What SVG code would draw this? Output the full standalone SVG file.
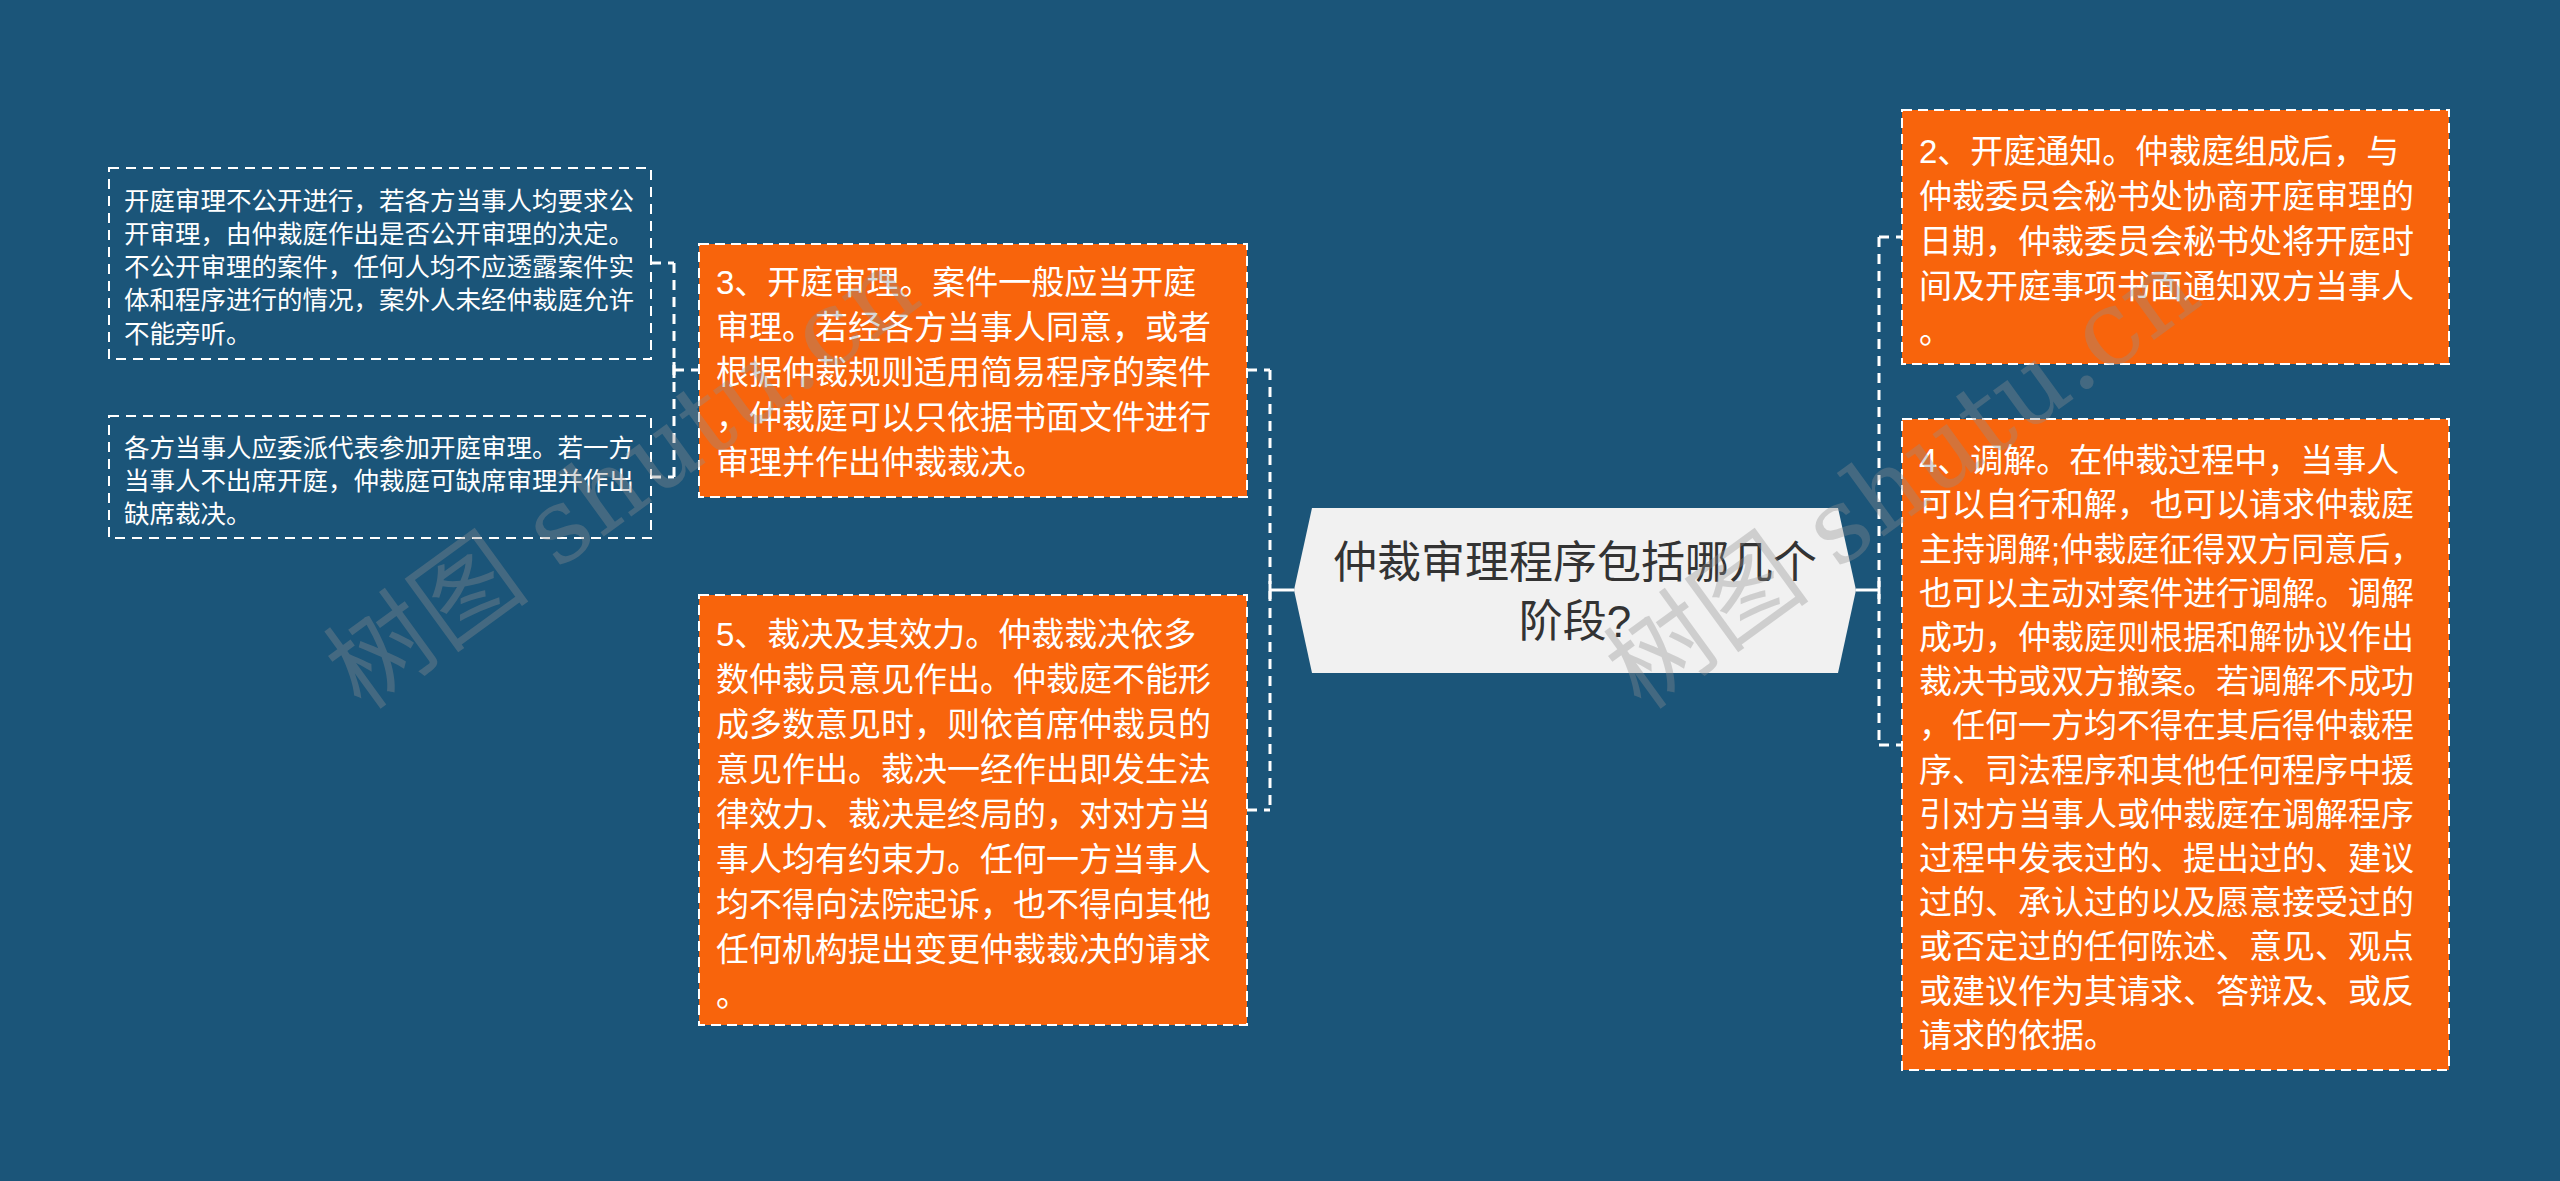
<svg xmlns="http://www.w3.org/2000/svg" width="2560" height="1181" viewBox="0 0 2560 1181">
<style>
.bg{fill:#1b5579}
.orange{fill:#f8640c;stroke:#ffffff;stroke-width:2;stroke-dasharray:10 6}
.plain{fill:none;stroke:#ffffff;stroke-width:2;stroke-dasharray:10 7}
.hex{fill:#f1f1f1}
.t{font-family:"Liberation Sans","Noto Sans CJK SC",sans-serif;fill:#ffffff}
.big{font-size:33px}
.small{font-size:25.5px}
.title{font-family:"Liberation Sans","Noto Sans CJK SC",sans-serif;font-size:44px;fill:#333333;text-anchor:middle}
.dash{fill:none;stroke:#ffffff;stroke-width:3;stroke-dasharray:10 7}
.solid{fill:none;stroke:#ffffff;stroke-width:3}
.wm{font-family:"DejaVu Serif","Noto Sans CJK SC",serif;font-size:104px;fill:#909090;opacity:0.35}
</style>
<rect class="bg" x="0" y="0" width="2560" height="1181"/>

<g id="connectors">
  <!-- left cluster: node 3 to detail boxes -->
  <path class="dash" d="M674 263 V477"/>
  <path class="dash" d="M651 263 H674"/>
  <path class="dash" d="M651 477 H674"/>
  <path class="dash" d="M674 370 H699"/>
  <path class="solid" d="M674 362 V378"/>
  <!-- center left spine -->
  <path class="dash" d="M1270 370 V810"/>
  <path class="dash" d="M1247 370 H1270"/>
  <path class="dash" d="M1247 810 H1270"/>
  <path class="solid" d="M1270 590 H1294"/>
  <path class="solid" d="M1270 581 V599"/>
  <!-- center right spine -->
  <path class="dash" d="M1879 237 V745"/>
  <path class="dash" d="M1879 237 H1902"/>
  <path class="dash" d="M1879 745 H1902"/>
  <path class="solid" d="M1856 590 H1879"/>
  <path class="solid" d="M1879 581 V599"/>
</g>

<g id="center">
  <polygon class="hex" points="1294,590 1312,508 1838,508 1856,590 1838,673 1312,673"/>
  <text class="title" x="1575" y="578">仲裁审理程序包括哪几个</text>
  <text class="title" x="1575" y="637">阶段?</text>
</g>

<g id="node-detail-1">
  <rect class="plain" x="109" y="168" width="542" height="191"/>
  <text class="t small" x="124" y="210">开庭审理不公开进行，若各方当事人均要求公</text>
  <text class="t small" x="124" y="243">开审理，由仲裁庭作出是否公开审理的决定。</text>
  <text class="t small" x="124" y="276">不公开审理的案件，任何人均不应透露案件实</text>
  <text class="t small" x="124" y="309">体和程序进行的情况，案外人未经仲裁庭允许</text>
  <text class="t small" x="124" y="343">不能旁听。</text>
</g>

<g id="node-detail-2">
  <rect class="plain" x="109" y="416" width="542" height="122"/>
  <text class="t small" x="124" y="457">各方当事人应委派代表参加开庭审理。若一方</text>
  <text class="t small" x="124" y="490">当事人不出席开庭，仲裁庭可缺席审理并作出</text>
  <text class="t small" x="124" y="523">缺席裁决。</text>
</g>

<g id="node-3">
  <rect class="orange" x="699" y="244" width="548" height="253"/>
  <text class="t big" x="716" y="294">3、开庭审理。案件一般应当开庭</text>
  <text class="t big" x="716" y="339">审理。若经各方当事人同意，或者</text>
  <text class="t big" x="716" y="384">根据仲裁规则适用简易程序的案件</text>
  <text class="t big" x="716" y="429">，仲裁庭可以只依据书面文件进行</text>
  <text class="t big" x="716" y="474">审理并作出仲裁裁决。</text>
</g>

<g id="node-5">
  <rect class="orange" x="699" y="595" width="548" height="430"/>
  <text class="t big" x="716" y="646">5、裁决及其效力。仲裁裁决依多</text>
  <text class="t big" x="716" y="691">数仲裁员意见作出。仲裁庭不能形</text>
  <text class="t big" x="716" y="736">成多数意见时，则依首席仲裁员的</text>
  <text class="t big" x="716" y="781">意见作出。裁决一经作出即发生法</text>
  <text class="t big" x="716" y="826">律效力、裁决是终局的，对对方当</text>
  <text class="t big" x="716" y="871">事人均有约束力。任何一方当事人</text>
  <text class="t big" x="716" y="916">均不得向法院起诉，也不得向其他</text>
  <text class="t big" x="716" y="961">任何机构提出变更仲裁裁决的请求</text>
  <text class="t big" x="716" y="1006">。</text>
</g>

<g id="node-2">
  <rect class="orange" x="1902" y="110" width="547" height="254"/>
  <text class="t big" x="1919" y="163">2、开庭通知。仲裁庭组成后，与</text>
  <text class="t big" x="1919" y="208">仲裁委员会秘书处协商开庭审理的</text>
  <text class="t big" x="1919" y="253">日期，仲裁委员会秘书处将开庭时</text>
  <text class="t big" x="1919" y="298">间及开庭事项书面通知双方当事人</text>
  <text class="t big" x="1919" y="343">。</text>
</g>

<g id="node-4">
  <rect class="orange" x="1902" y="419" width="547" height="651"/>
  <text class="t big" x="1919" y="472">4、调解。在仲裁过程中，当事人</text>
  <text class="t big" x="1919" y="516">可以自行和解，也可以请求仲裁庭</text>
  <text class="t big" x="1919" y="561">主持调解;仲裁庭征得双方同意后，</text>
  <text class="t big" x="1919" y="605">也可以主动对案件进行调解。调解</text>
  <text class="t big" x="1919" y="649">成功，仲裁庭则根据和解协议作出</text>
  <text class="t big" x="1919" y="693">裁决书或双方撤案。若调解不成功</text>
  <text class="t big" x="1919" y="737">，任何一方均不得在其后得仲裁程</text>
  <text class="t big" x="1919" y="782">序、司法程序和其他任何程序中援</text>
  <text class="t big" x="1919" y="826">引对方当事人或仲裁庭在调解程序</text>
  <text class="t big" x="1919" y="870">过程中发表过的、提出过的、建议</text>
  <text class="t big" x="1919" y="914">过的、承认过的以及愿意接受过的</text>
  <text class="t big" x="1919" y="958">或否定过的任何陈述、意见、观点</text>
  <text class="t big" x="1919" y="1003">或建议作为其请求、答辩及、或反</text>
  <text class="t big" x="1919" y="1047">请求的依据。</text>
</g>

<g id="watermarks">
  <text class="wm" transform="translate(362 712) rotate(-36)">树图 shutu.cn</text>
  <text class="wm" transform="translate(1642 712) rotate(-36)">树图 shutu.cn</text>
</g>
</svg>
